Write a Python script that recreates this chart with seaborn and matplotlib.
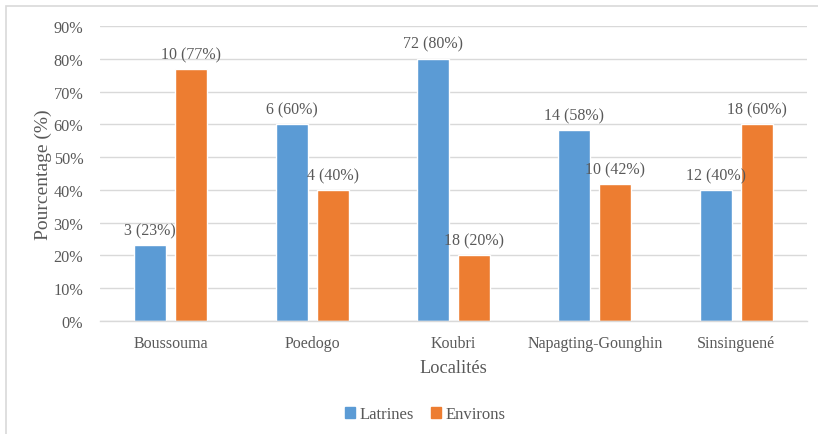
import pandas as pd
import seaborn as sns
import matplotlib.pyplot as plt
from matplotlib.patches import Rectangle

localites = ['Boussouma', 'Poedogo', 'Koubri', 'Napagting-Gounghin', 'Sinsinguené']
latrines_n = [3, 6, 72, 14, 12]
latrines_pct = [23.1, 60.0, 80.0, 58.3, 40.0]
environs_n = [10, 4, 18, 10, 18]
environs_pct = [76.9, 40.0, 20.0, 41.7, 60.0]
series = ['Latrines', 'Environs']
colors = ['#5B9BD5', '#ED7D31']

df = pd.DataFrame({
    'Localité': localites * 2,
    'Type': ['Latrines'] * 5 + ['Environs'] * 5,
    'pct': [p / 100 for p in latrines_pct + environs_pct],
})

sns.set_theme(style='white')
plt.rcParams['font.family'] = ['Liberation Serif', 'DejaVu Serif']
text_col = '#595959'

fig = plt.figure(figsize=(8.18, 4.35), dpi=100)
ax = fig.add_axes([0.1222, 0.2598, 0.8644, 0.6781])

sns.barplot(data=df, x='Localité', y='pct', hue='Type', hue_order=series,
            palette=colors, width=0.58, gap=0.22, saturation=1, ax=ax,
            legend=False, errorbar=None)

ax.set_ylim(0, 0.9)
ax.set_yticks([i / 10 for i in range(10)])
ax.set_yticklabels([f'{i * 10}%' for i in range(10)])
ax.yaxis.grid(True, color='#D9D9D9', linewidth=1)
ax.set_axisbelow(True)
for s in ['top', 'right', 'left']:
    ax.spines[s].set_visible(False)
ax.spines['bottom'].set_color('#D9D9D9')
ax.spines['bottom'].set_linewidth(1)
ax.tick_params(axis='both', length=0, colors=text_col)
ax.tick_params(axis='y', labelsize=11.7, pad=12)
ax.tick_params(axis='x', labelsize=11.5, pad=10)

ax.set_xlabel('Localités', fontsize=13.2, color=text_col, labelpad=6)
ax.set_ylabel('Pourcentage (%)', fontsize=14, color=text_col, labelpad=1)

# labels on bars: count (pct)
lab = [[f'{n} ({round(p)}%)' for n, p in zip(latrines_n, latrines_pct)],
       [f'{n} ({round(p)}%)' for n, p in zip(environs_n, environs_pct)]]
for cont, labels in zip(ax.containers, lab):
    ax.bar_label(cont, labels=labels, padding=5, fontsize=11.5, color=text_col)

handles = [Rectangle((0, 0), 1, 1, color=c) for c in colors]
fig.legend(handles, series, loc='center', bbox_to_anchor=(0.52, 0.045), ncol=2,
           frameon=False, handlelength=0.6, handleheight=0.6, handletextpad=0.3,
           columnspacing=1.0, fontsize=12, labelcolor=text_col)

# light frame around the chart area
fig.patches.append(Rectangle((6 / 818, -0.05), 1.0, 1 - 7 / 435 + 0.05,
                             transform=fig.transFigure, fill=False,
                             edgecolor='#D9D9D9', linewidth=1.2))

fig.savefig('out.png', dpi=100)
